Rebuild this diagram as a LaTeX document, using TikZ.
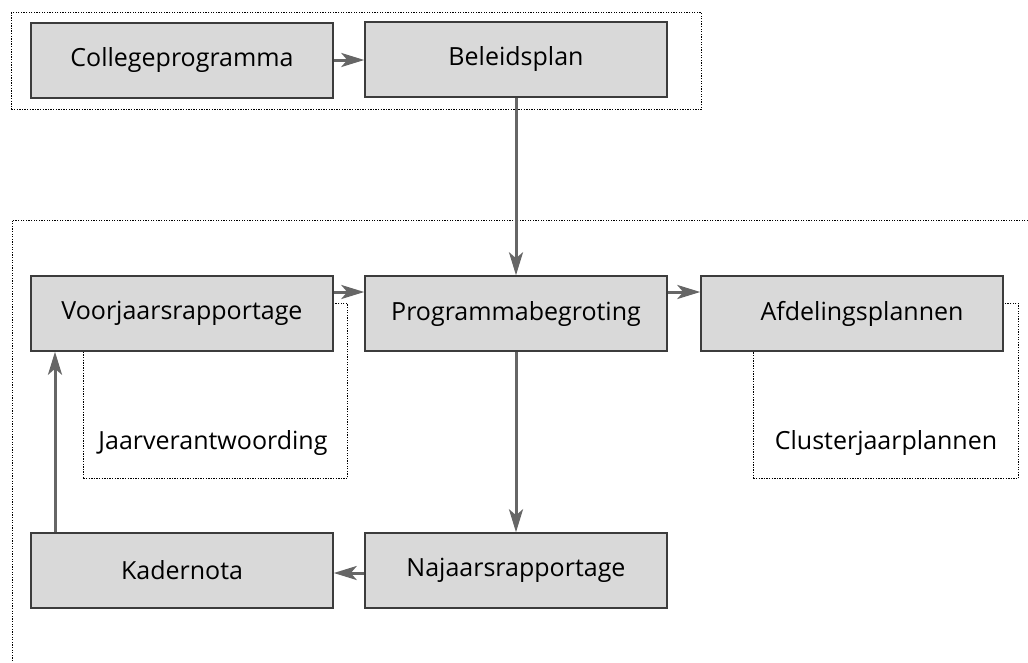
\documentclass[tikz,border=0pt]{standalone}
\usepackage{fontspec}
\setmainfont{Open Sans}
\usetikzlibrary{arrows.meta}
\definecolor{boxfill}{HTML}{D9D9D9}
\definecolor{boxline}{HTML}{3C3C3C}
\definecolor{arrowgray}{HTML}{666666}
\tikzset{
  box/.style={draw=boxline, line width=1.5pt, fill=boxfill, minimum width=302pt, minimum height=75pt, inner sep=0pt, font=\fontsize{25}{28}\selectfont},
  dotbox/.style={draw=black, line width=0.9pt, dash pattern=on 1.3pt off 1.3pt, inner sep=0pt},
  lbl/.style={inner sep=0pt, font=\fontsize{25}{28}\selectfont},
  conn/.style={draw=arrowgray, line width=3pt, -{Stealth[length=23pt,width=14pt,inset=6pt]}},
}
\begin{document}
\begin{tikzpicture}[x=1pt,y=-1pt]
\useasboundingbox (0,0) rectangle (1028,662);
% frames
\node[dotbox, minimum width=690pt, minimum height=97pt, anchor=north west] (topframe) at (11,12) {};
\draw[dotbox] (1028,220) -- (12,220) -- (12,662);
% sub dotted boxes
\node[dotbox, minimum width=264pt, minimum height=175pt, anchor=north west] (jaarbox) at (83,303) {};
\node[dotbox, minimum width=265pt, minimum height=175pt, anchor=north west] (clusbox) at (753,303) {};
\node[lbl] (jaar) at (213,443) {Jaarverantwoording};
\node[lbl] (clus) at (886,443) {Clusterjaarplannen};
% boxes
\node[box] (coll) at (182,60.5) {Collegeprogramma};
\node[box] (bel) at (516,59.5) {Beleidsplan};
\node[box] (voor) at (182,313.5) {Voorjaarsrapportage};
\node[box] (prog) at (516,313.5) {Programmabegroting};
\node[box] (afd) at (852,313.5) {\hspace*{20pt}Afdelingsplannen};
\node[box] (kad) at (182,570.5) {Kadernota};
\node[box] (naj) at (516,570.5) {Najaarsrapportage};
% connectors
\draw[conn] (coll.east |- 0,60) -- (bel.west |- 0,60);
\draw[conn] (bel.south) -- (prog.north);
\draw[conn] (voor.east |- 0,292) -- (prog.west |- 0,292);
\draw[conn] (prog.east |- 0,292) -- (afd.west |- 0,292);
\draw[conn] (prog.south) -- (naj.north);
\draw[conn] (naj.west |- 0,573) -- (kad.east |- 0,573);
\draw[conn] (kad.north -| 55,0) -- (voor.south -| 55,0);
\end{tikzpicture}
\end{document}
